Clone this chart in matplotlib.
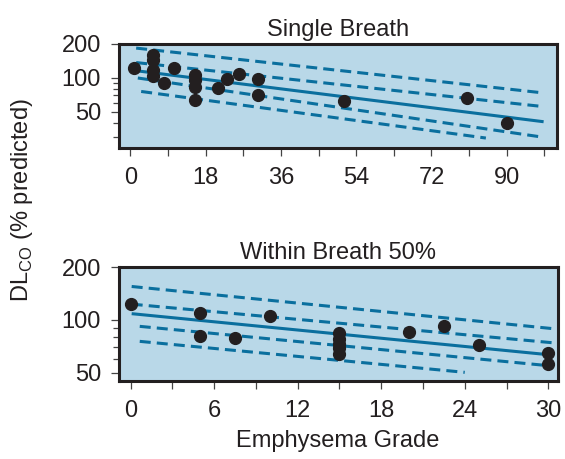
import matplotlib
matplotlib.use('Agg')
import matplotlib.pyplot as plt
from matplotlib.ticker import FixedLocator, NullFormatter

plt.rcParams['font.family'] = ['Liberation Sans', 'DejaVu Sans']
plt.rcParams['mathtext.fontset'] = 'custom'
plt.rcParams['mathtext.rm'] = 'Liberation Sans'

# Single Breath panel
sb_x = [1, 5.5, 5.5, 5.5, 5.5, 8, 10.5, 15.5, 15.5, 15.5, 15.5, 21, 23, 26, 30.5, 30.5, 51, 80.5, 90]
sb_y = [122, 160, 144, 117, 104, 91, 122, 107, 96, 84, 64, 81, 97, 109, 98, 71, 63, 66, 40]
sb_fit_x = [0.6, 98.8]
sb_fit_y = [117, 41]
sb_band_x = [[1.4, 98.4], [1.4, 98.4], [1.8, 98.4], [2.6, 85]]
sb_band_y = [[184, 74], [137, 56], [100, 30], [76, 29.4]]

# Within Breath 50% panel
wb_x = [0, 5, 5, 7.5, 10, 15, 15, 15, 15, 15, 20, 22.5, 25, 30, 30]
wb_y = [123, 109, 81, 79, 105, 84, 78, 73, 69, 64, 85, 93, 72, 65, 56.5]
wb_fit_x = [0.07, 30]
wb_fit_y = [108.6, 63.5]
wb_band_x = [[0.07, 30.5], [0.07, 30.5], [0.65, 30], [0.65, 24]]
wb_band_y = [[155, 89], [123, 74], [92, 55], [75.6, 50.4]]

BG = '#b9d8e8'
LINE = '#0a6f9e'
DOT = '#231f20'
FS = 17

fig = plt.figure(figsize=(5.65, 4.59), dpi=100)
ax1 = fig.add_axes([119/565, 1-148/459, 438/565, 104/459])
ax2 = fig.add_axes([119/565, 1-381/459, 439/565, 114/459])


def style(ax, title, xlim, ylim, xmaj, xmin, ymin):
    ax.set_facecolor(BG)
    ax.set_yscale('log')
    ax.set_xlim(*xlim)
    ax.set_ylim(*ylim)
    ax.set_xticks(xmaj)
    ax.set_xticklabels([str(v) for v in xmaj])
    ax.xaxis.set_minor_locator(FixedLocator(xmin))
    ax.set_yticks([50, 100, 200])
    ax.set_yticklabels(['50', '100', '200'])
    ax.yaxis.set_minor_locator(FixedLocator(ymin))
    ax.yaxis.set_minor_formatter(NullFormatter())
    for s in ax.spines.values():
        s.set_linewidth(2.2)
        s.set_color(DOT)
    ax.tick_params(which='both', direction='out', color='#444444', width=0.9,
                   labelsize=FS, labelcolor=DOT)
    ax.tick_params(axis='x', which='both', length=6, pad=8)
    ax.tick_params(axis='y', which='major', length=6, pad=7)
    ax.tick_params(axis='y', which='minor', length=4)
    ax.set_title(title, fontsize=FS, color=DOT, pad=6)


def draw(ax, x, y, fx, fy, bx, by):
    ax.plot(fx, fy, color=LINE, lw=2.2, solid_capstyle='butt', zorder=2)
    for xs, ys in zip(bx, by):
        ax.plot(xs, ys, color=LINE, lw=2.2, linestyle=(0, (3.6, 2.0)),
                dash_capstyle='butt', zorder=2)
    ax.plot(x, y, 'o', color=DOT, ms=8.5, zorder=3)


draw(ax1, sb_x, sb_y, sb_fit_x, sb_fit_y, sb_band_x, sb_band_y)
style(ax1, 'Single Breath', (-2.7, 102), (24, 200),
      [0, 18, 36, 54, 72, 90], [9, 27, 45, 63, 81, 99], [30, 40, 60, 70, 80, 90])

draw(ax2, wb_x, wb_y, wb_fit_x, wb_fit_y, wb_band_x, wb_band_y)
style(ax2, 'Within Breath 50%', (-0.84, 30.7), (45, 200),
      [0, 6, 12, 18, 24, 30], [3, 9, 15, 21, 27], [60, 70, 80, 90])

fig.text(22/565, 1-200/459, r'DL$_{\mathrm{CO}}$ (% predicted)', rotation=90,
         ha='center', va='center', fontsize=FS, color=DOT)
fig.text(338/565, 1-441/459, 'Emphysema Grade', ha='center', va='center',
         fontsize=FS, color=DOT)

fig.savefig('out.png', dpi=100)
